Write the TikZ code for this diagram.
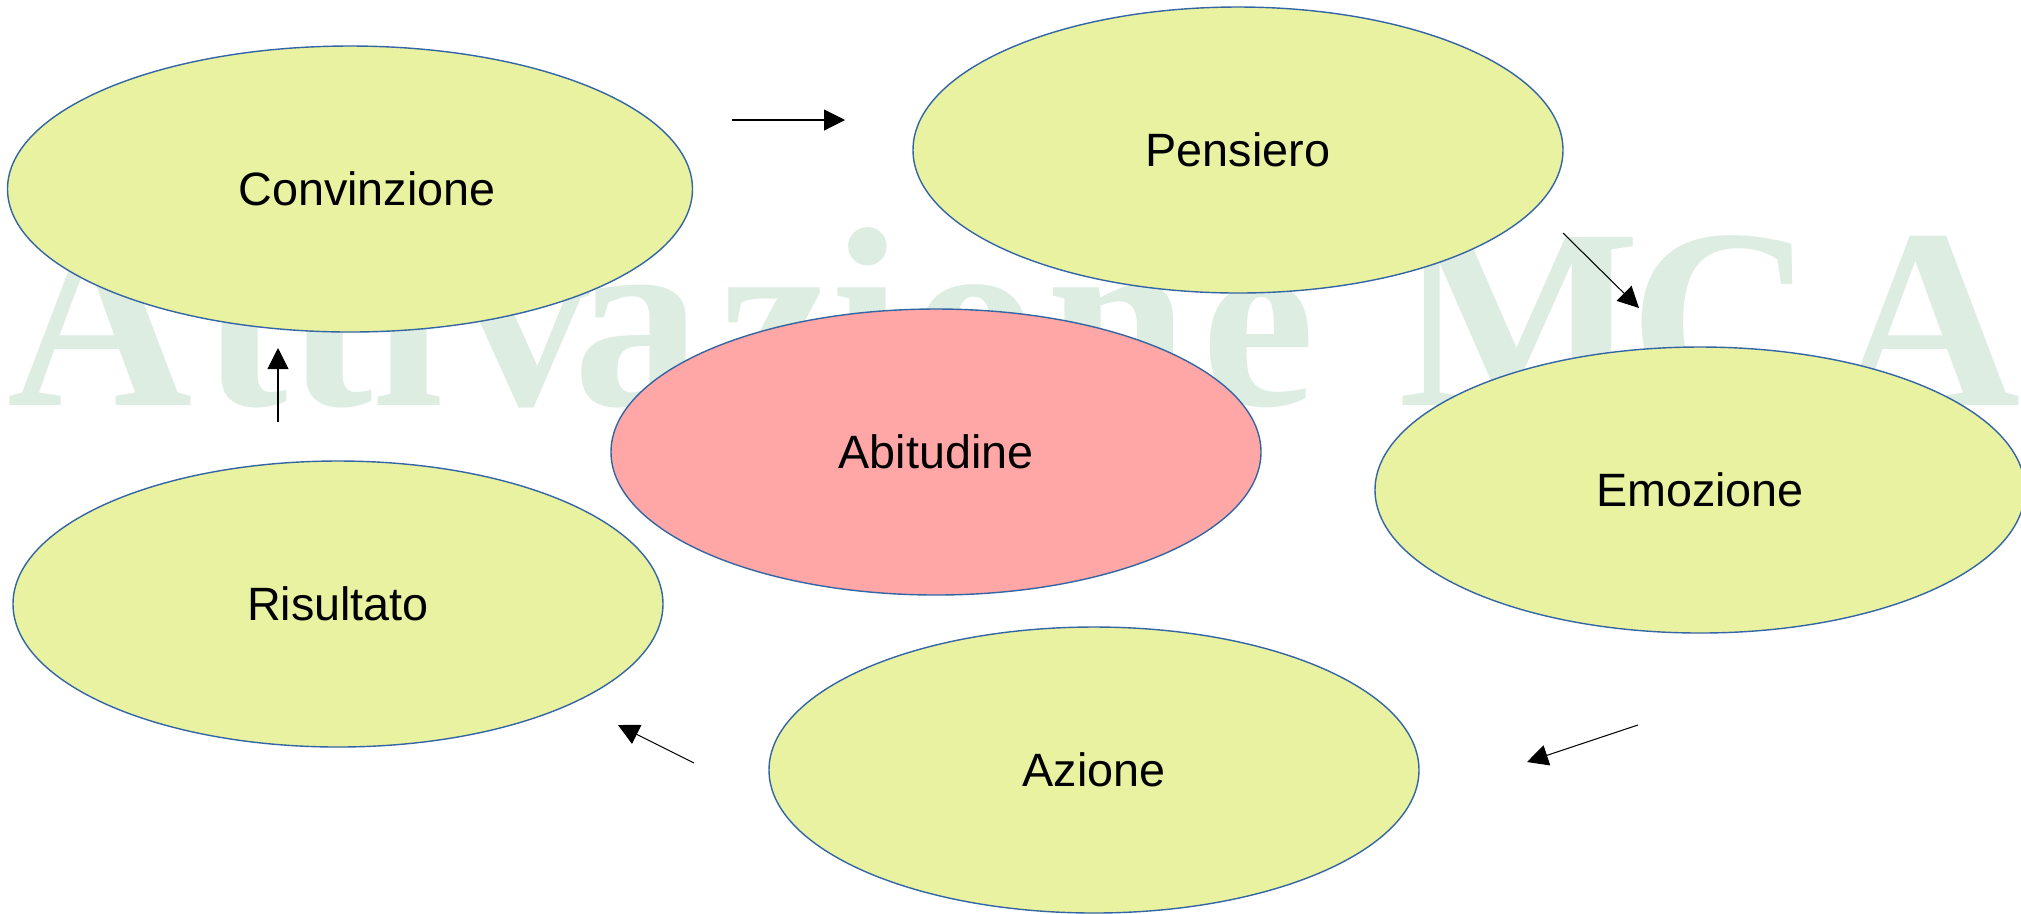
\documentclass[tikz,border=0pt]{standalone}
\usepackage{fontspec}
\setmainfont{Liberation Sans}
\newfontfamily\wmfont{Liberation Serif}
\usetikzlibrary{arrows.meta,shapes.geometric}
\definecolor{lime}{RGB}{232,242,161}
\definecolor{rose}{RGB}{255,166,166}
\definecolor{rim}{RGB}{52,101,164}
\definecolor{wmark}{RGB}{221,237,226}
\def\base{405}

\begin{document}
\begin{tikzpicture}[x=0.1mm, y=-0.1mm,
    bubble/.style={ellipse, draw=rim, line width=0.4pt, fill=lime, minimum width=65mm, minimum height=28.6mm, inner sep=0pt, font=\fontsize{13.3}{16}\selectfont},
    link/.style={-{Triangle[length=2.1mm,width=2.1mm]}, line width=0.3pt},
    letter/.style={anchor=base, text=wmark, inner sep=0pt, font=\wmfont\bfseries\fontsize{73}{73}\selectfont}]
      \useasboundingbox (0,0) rectangle (2021,913);
      \foreach \ch/\cx in {A/100, t/245, t/330, i/408, v/526, a/638, z/775, i/867, o/975, n/1118, e/1258, M/1520, C/1722, A/1928}
        \node[letter] (w\cx) at (\cx,\base) {\ch};
      \node[bubble, minimum width=68.5mm, label={[font=\fontsize{13.3}{16}\selectfont, xshift=1.7mm]center:Convinzione}] (conv) at (350,189) {};
      \node[bubble] (pens) at (1238,150) {Pensiero};
      \node[bubble, fill=rose] (abit) at (936,452) {Abitudine};
      \node[bubble] (emoz) at (1700,490) {Emozione};
      \node[bubble] (azio) at (1094,770) {Azione};
      \node[bubble] (risu) at (338,604) {Risultato};
      \coordinate (cp1) at (732,120);
      \coordinate (cp2) at (845,120);
      \coordinate (pe1) at (1563,233);
      \coordinate (pe2) at (1639,308);
      \coordinate (ea1) at (1638,725);
      \coordinate (ea2) at (1527,762);
      \coordinate (ar1) at (694,763);
      \coordinate (ar2) at (618,725);
      \coordinate (rc1) at (278,422);
      \coordinate (rc2) at (278,348);
      \draw[link] (cp1) -- (cp2);
      \draw[link] (pe1) -- (pe2);
      \draw[link] (ea1) -- (ea2);
      \draw[link] (ar1) -- (ar2);
      \draw[link] (rc1) -- (rc2);
    \end{tikzpicture}
\end{document}
